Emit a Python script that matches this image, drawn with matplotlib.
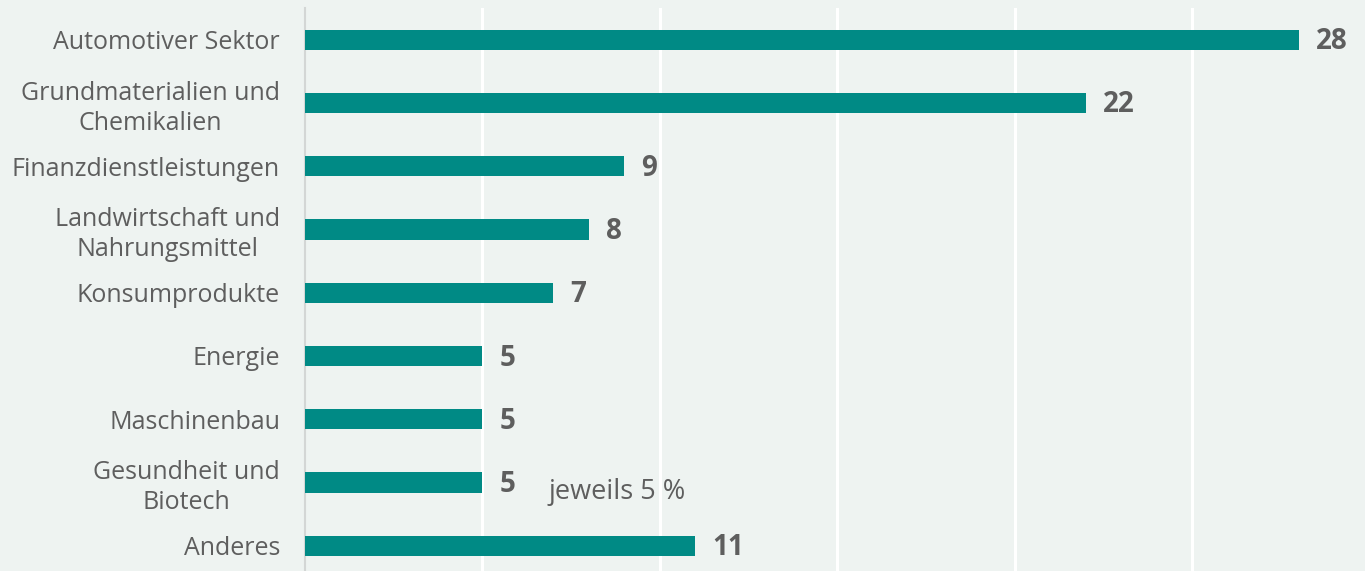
import matplotlib.pyplot as plt

categories = ['Automotiver Sektor', 'Grundmaterialien und\nChemikalien', 'Finanzdienstleistungen',
              'Landwirtschaft und\nNahrungsmittel', 'Konsumprodukte', 'Energie', 'Maschinenbau',
              'Gesundheit und\nBiotech', 'Anderes']
values = [28, 22, 9, 8, 7, 5, 5, 5, 11]

bg = '#EEF3F1'
bar_color = '#008A85'
text_color = '#5E5E5E'

plt.rcParams['font.family'] = ['Open Sans', 'DejaVu Sans']

fig = plt.figure(figsize=(13.65, 5.71), dpi=100, facecolor=bg)
ax = fig.add_axes([305 / 1365, 0, 1 - 305 / 1365, 1 - 8 / 571])
ax.set_facecolor(bg)

y = list(range(len(categories)))
ax.barh(y, values, height=0.32, color=bar_color, zorder=3)

ax.set_xlim(0, 29.86)
ax.set_ylim(8.4, -0.5)

# white vertical gridlines
ax.set_xticks([5, 10, 15, 20, 25])
ax.xaxis.grid(True, color='white', linewidth=2.2, zorder=0)
ax.tick_params(axis='x', length=0, labelbottom=False)

ax.set_yticks(y)
ax.set_yticklabels(categories, fontsize=18, color=text_color)
for lbl in ax.get_yticklabels():
    lbl.set_multialignment('center')
    lbl.set_linespacing(1.25)
ax.tick_params(axis='y', length=0, pad=18)

for s in ['top', 'right', 'bottom']:
    ax.spines[s].set_visible(False)
ax.spines['left'].set_color('#D3D6D5')
ax.spines['left'].set_linewidth(1.5)

# value labels
for i, v in enumerate(values):
    ax.annotate(str(v), (v, i), xytext=(12, -1.5), textcoords='offset points',
                ha='left', va='center', fontsize=20, fontweight='bold', color=text_color)

ax.text(6.85, 7.15, 'jeweils 5 %', ha='left', va='center', fontsize=19.5, color=text_color)

fig.savefig('out.png', dpi=100, facecolor=bg)
